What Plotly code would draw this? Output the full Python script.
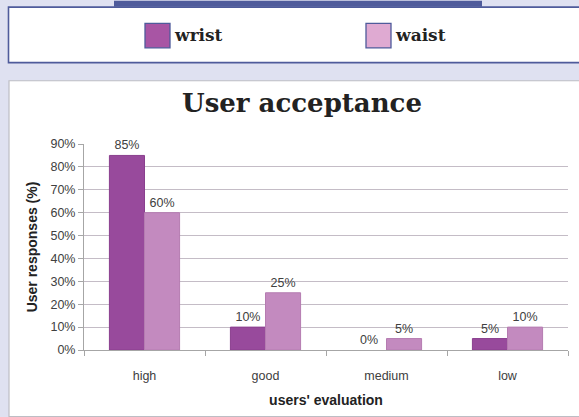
import plotly.graph_objects as go

# Survey results: share of user responses per evaluation level
categories = ["high", "good", "medium", "low"]
series_names = ["wrist", "waist"]
wrist = [85, 10, 0, 5]
waist = [60, 25, 5, 10]
y_ticks = [0, 10, 20, 30, 40, 50, 60, 70, 80, 90]

bar_fill = ["#984a9c", "#c38abf"]
bar_line = ["#8a3f8e", "#b57cb1"]
swatch_fill = ["#a855a4", "#dfaad2"]

W, H = 579, 417
L, R, T, B = 84, 11, 144, 63
PW, PH = W - L - R, H - T - B


def px_x(x):
    return (x - L) / PW


def px_y(y):
    return (H - B - y) / PH


fig = go.Figure()
for name, vals, fc, lc in zip(series_names, [wrist, waist], bar_fill, bar_line):
    fig.add_trace(go.Bar(
        x=categories, y=vals, name=name,
        marker=dict(color=fc, line=dict(color=lc, width=[1 if v > 0 else 0 for v in vals])),
        text=[f"{v}%" for v in vals], textposition="outside",
        textfont=dict(family="Liberation Sans", size=12.5, color="#404040"),
        cliponaxis=False, showlegend=False,
    ))

shapes = [
    # chart area panel
    dict(type="rect", xref="paper", yref="paper", layer="below",
         x0=px_x(9), x1=px_x(W + 5), y0=px_y(H + 5), y1=px_y(79.5),
         fillcolor="white", line=dict(color="#bdbdc4", width=1.2)),
    # legend box
    dict(type="rect", xref="paper", yref="paper", layer="above",
         x0=px_x(8.5), x1=px_x(W + 5), y0=px_y(61), y1=px_y(4.5),
         fillcolor="white", line=dict(color="#4f5b9b", width=1.6)),
    # header band above legend
    dict(type="rect", xref="paper", yref="paper", layer="above",
         x0=px_x(114), x1=px_x(482), y0=px_y(4), y1=px_y(-2),
         fillcolor="#4f5b9b", line=dict(width=0)),
]

annotations = []
# legend swatches and labels
sw_x = [145, 366]
for name, sc, x0 in zip(series_names, swatch_fill, sw_x):
    shapes.append(dict(type="rect", xref="paper", yref="paper", layer="above",
                       x0=px_x(x0), x1=px_x(x0 + 25), y0=px_y(46), y1=px_y(21),
                       fillcolor=sc, line=dict(color="#4f5b9b", width=1.3)))
    annotations.append(dict(xref="paper", yref="paper",
                            x=px_x(x0 + 27), y=px_y(33),
                            text=f"<b>{name}</b>", showarrow=False,
                            xanchor="left", yanchor="middle",
                            font=dict(family="DejaVu Serif", size=17, color="#222222")))

annotations.append(dict(xref="paper", yref="paper",
                        x=px_x(302), y=px_y(102),
                        text="<b>User acceptance</b>", showarrow=False,
                        xanchor="center", yanchor="middle",
                        font=dict(family="DejaVu Serif", size=26, color="#222222")))

fig.update_layout(
    width=W, height=H,
    margin=dict(l=L, r=R, t=T, b=B),
    paper_bgcolor="#dfe1f1",
    plot_bgcolor="#ede0eb",
    barmode="group", bargap=0.42, bargroupgap=0,
    shapes=shapes, annotations=annotations,
    showlegend=False,
    font=dict(family="Liberation Sans", size=12, color="#404040"),
)
fig.update_xaxes(
    showline=True, linecolor="#a6a6a6", linewidth=1.3,
    ticks="outside", ticklen=5, tickcolor="#a6a6a6",
    tickson="boundaries", ticklabelstandoff=14,
    tickfont=dict(family="Liberation Sans", size=12.5, color="#404040"),
    title=dict(text="<b>users' evaluation</b>", standoff=13,
               font=dict(family="Liberation Sans", size=14, color="#222222")),
)
fig.update_yaxes(
    range=[0, 90], tickvals=y_ticks, ticktext=[f"{v}%" for v in y_ticks],
    showline=True, linecolor="#a6a6a6", linewidth=1,
    ticks="outside", ticklen=5, tickcolor="#a6a6a6",
    showgrid=True, gridcolor="#c4bcc6", gridwidth=1,
    mirror=False, zeroline=False,
    tickfont=dict(family="Liberation Sans", size=12.5, color="#404040"),
    title=dict(text="<b>User responses (%)</b>", standoff=9,
               font=dict(family="Liberation Sans", size=14, color="#222222")),
)

fig.write_html("out.html")
